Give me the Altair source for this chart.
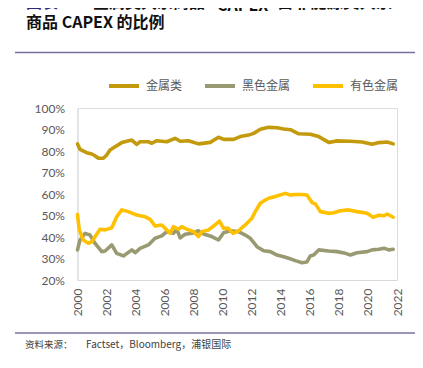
import altair as alt
import pandas as pd

# ---- data ----
series_names = ["金属类", "黑色金属", "有色金属"]
series_colors = ["#C39A0C", "#9A9A72", "#FFC000"]

metal_year = [2000.0, 2000.17, 2000.63, 2000.98, 2001.2, 2001.44, 2001.78, 2002.0, 2002.24, 2002.59,
              2003.05, 2003.4, 2003.74, 2004.08, 2004.31, 2004.88, 2005.12, 2005.46, 2006.15, 2006.72,
              2007.07, 2007.64, 2008.33, 2009.14, 2009.71, 2010.06, 2010.75, 2011.21, 2011.78, 2012.13,
              2012.59, 2013.16, 2013.74, 2014.2, 2014.66, 2015.23, 2016.03, 2016.61, 2017.3, 2017.87,
              2018.79, 2019.6, 2020.29, 2020.75, 2021.32, 2021.74]
metal_pct = [83.3, 80.8, 79.2, 78.6, 77.8, 76.6, 76.6, 78.0, 80.5, 82.0,
             83.9, 84.5, 85.1, 83.1, 84.3, 84.3, 83.6, 84.8, 84.3, 85.9,
             84.5, 84.8, 83.3, 84.0, 86.4, 85.4, 85.4, 86.7, 87.4, 88.2,
             90.1, 91.0, 90.8, 90.2, 89.9, 88.0, 87.8, 86.7, 84.0, 84.7,
             84.5, 84.2, 83.1, 83.9, 84.2, 83.3]

ferrous_year = [2000.0, 2000.17, 2000.52, 2000.86, 2001.2, 2001.67, 2001.9, 2002.36, 2002.7, 2003.16,
                2003.74, 2003.97, 2004.31, 2004.88, 2005.34, 2005.8, 2006.15, 2006.6, 2006.84, 2007.07,
                2007.41, 2007.99, 2008.33, 2008.68, 2009.25, 2009.71, 2010.06, 2010.52, 2011.09, 2011.55,
                2011.9, 2012.36, 2012.82, 2013.28, 2013.74, 2014.2, 2014.54, 2015.0, 2015.46, 2015.8,
                2016.03, 2016.26, 2016.61, 2017.3, 2017.87, 2018.45, 2018.79, 2019.25, 2019.94, 2020.29,
                2020.75, 2021.1, 2021.43, 2021.74]
ferrous_pct = [34.0, 38.6, 41.7, 40.9, 37.1, 33.2, 33.5, 36.3, 32.4, 31.2,
               34.0, 32.7, 34.7, 36.3, 39.4, 40.5, 42.5, 41.7, 43.5, 39.6,
               41.3, 41.9, 42.9, 41.4, 40.2, 38.6, 42.0, 42.9, 42.5, 40.9,
               39.4, 35.5, 33.6, 33.2, 31.6, 30.8, 30.1, 29.0, 28.0, 28.4,
               31.2, 31.6, 34.0, 33.5, 33.2, 32.4, 31.6, 32.7, 33.2, 34.0,
               34.3, 34.8, 34.0, 34.3]

nonferrous_year = [2000.0, 2000.12, 2000.4, 2000.74, 2000.98, 2001.55, 2001.9, 2002.36, 2002.7, 2003.05,
                   2003.5, 2004.08, 2004.66, 2005.0, 2005.34, 2005.8, 2006.38, 2006.6, 2006.95, 2007.18,
                   2007.53, 2007.99, 2008.33, 2008.56, 2009.02, 2009.37, 2009.78, 2010.06, 2010.4, 2010.7,
                   2011.09, 2011.55, 2012.01, 2012.24, 2012.59, 2012.93, 2013.16, 2013.62, 2014.31, 2014.66,
                   2015.0, 2015.46, 2015.8, 2016.15, 2016.38, 2016.72, 2017.3, 2017.64, 2018.1, 2018.68,
                   2019.25, 2019.94, 2020.35, 2020.75, 2021.1, 2021.32, 2021.74]
nonferrous_pct = [50.5, 43.3, 38.6, 37.1, 37.8, 43.6, 43.3, 44.3, 49.4, 52.6,
                  51.8, 50.2, 49.4, 48.2, 45.1, 45.6, 41.7, 44.8, 43.6, 44.8,
                  43.6, 42.5, 40.2, 42.5, 43.3, 45.1, 47.4, 44.0, 44.0, 41.7,
                  42.9, 45.6, 48.7, 51.8, 55.7, 57.2, 58.0, 58.8, 60.3, 59.5,
                  59.8, 59.8, 59.5, 56.0, 55.4, 51.8, 51.0, 51.3, 52.2, 52.6,
                  51.8, 51.0, 49.2, 50.1, 49.9, 50.7, 49.2]

year_ticks = list(range(2000, 2023, 2))
pct_ticks = [0.2, 0.3, 0.4, 0.5, 0.6, 0.7, 0.8, 0.9, 1.0]

title_tag = "图表 7:"
title_line1_parts = ["金属类大宗商品", "CAPEX", "占非能源类大宗"]
title_line2 = "商品 CAPEX 的比例"
source_label = "资料来源："
source_text = "Factset，Bloomberg，浦银国际"

# ---- build table ----
frames = []
for name, yrs, vals in [(series_names[0], metal_year, metal_pct),
                        (series_names[1], ferrous_year, ferrous_pct),
                        (series_names[2], nonferrous_year, nonferrous_pct)]:
    frames.append(pd.DataFrame({"year": yrs, "share": [v / 100 for v in vals], "series": name}))
df = pd.concat(frames, ignore_index=True)

CJK = "Noto Sans CJK SC"
LAT = "Lato"

lines = alt.Chart(df).mark_line(strokeWidth=3.6, strokeJoin="round", strokeCap="round").encode(
    x=alt.X("year:Q",
            scale=alt.Scale(domain=[2000, 2022], nice=False, zero=False),
            axis=alt.Axis(values=year_ticks, format="d", labelAngle=270, labelPadding=8,
                          ticks=False, grid=False, domainColor="#D9D9D9", domainWidth=1,
                          labelColor="#595959", labelFont=LAT, labelFontSize=12,
                          labelOverlap=False, title=None)),
    y=alt.Y("share:Q",
            scale=alt.Scale(domain=[0.2, 1.0], nice=False, zero=False),
            axis=alt.Axis(values=pct_ticks, format=".0%", labelPadding=13,
                          ticks=False, grid=False, domainColor="#D9D9D9", domainWidth=1,
                          labelColor="#595959", labelFont=LAT, labelFontSize=12, title=None)),
    color=alt.Color("series:N",
                    scale=alt.Scale(domain=series_names, range=series_colors),
                    sort=series_names,
                    legend=alt.Legend(orient="none", legendX=29.5, legendY=-39, direction="horizontal",
                                      title=None, symbolType="stroke", symbolSize=900,
                                      symbolStrokeWidth=4, labelFont=CJK, labelFontSize=12,
                                      labelColor="#595959", labelOffset=5, columnPadding=14)),
    order=alt.Order("year:Q"),
)

def txt(text, x, y, size, color, weight="normal", font=CJK, baseline="bottom"):
    return alt.Chart(pd.DataFrame({"t": [text]})).mark_text(
        align="left", baseline=baseline, fontSize=size, font=font, fontWeight=weight, color=color
    ).encode(text="t:N", x=alt.value(x), y=alt.value(y))

def hrule(y, x1, x2, color, w):
    return alt.Chart(pd.DataFrame({"a": [0]})).mark_rule(color=color, strokeWidth=w).encode(
        x=alt.value(x1), x2=alt.value(x2), y=alt.value(y))

t1a = txt(title_tag, -51.5, -97, 16, "#2B2A7E", "bold")
t1b = txt(title_line1_parts[0], 15.5, -97, 16, "#111111", "bold")
t1c = txt(title_line1_parts[1], 139.5, -97, 16, "#111111", "bold", baseline="alphabetic")
t1d = txt(title_line1_parts[2], 199.5, -97, 16.5, "#111111", "bold")
t2 = txt(title_line2, -51.5, -77, 16, "#111111", "bold")
r1 = hrule(-55.5, -62.5, 338.5, "#7672A0", 1.5)
r2 = hrule(225, -62.5, 338.5, "#7672A0", 1.5)
s1 = txt(source_label, -52.5, 237, 9.5, "#404040", baseline="middle")
s2 = txt(source_text, 8.5, 237, 10, "#404040", baseline="middle")

chart = alt.layer(lines, t1a, t1b, t1c, t1d, t2, r1, r2, s1, s2).properties(
    width=319.5, height=172,
    autosize=alt.AutoSizeParams(type="none"),
    padding={"left": 69.5, "top": 100, "right": 18, "bottom": 80},
).configure_view(stroke=None).configure(background="white")

chart.save("out.html", embed_options={"renderer": "svg", "actions": False})
